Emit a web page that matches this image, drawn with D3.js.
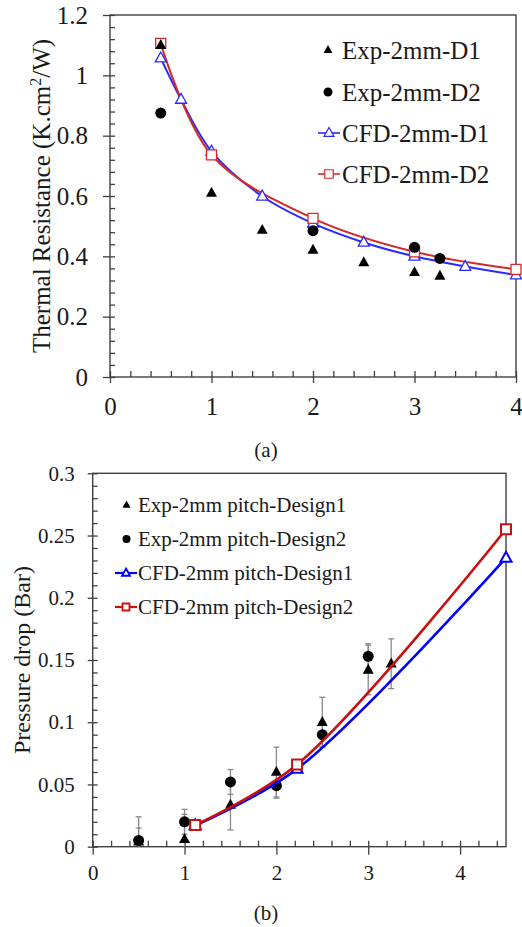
<!DOCTYPE html>
<html>
<head>
<meta charset="utf-8">
<script src="https://cdn.jsdelivr.net/npm/d3@7"></script>
<style>
  html, body { margin: 0; padding: 0; background: #fff; }
  svg { display: block; }
</style>
</head>
<body>
<div id="chart_div"></div>
<script>
// ---- data, chart (a): thermal resistance ----
const xExpD1A = [0.5, 1, 1.5, 2, 2.5, 3, 3.25];
const expD1A = [1.10, 0.61, 0.487, 0.421, 0.38, 0.347, 0.335];
const xExpD2A = [0.5, 2, 3, 3.25];
const expD2A = [0.875, 0.485, 0.43, 0.393];
const xCfdD1A = [0.5, 0.7, 1, 1.5, 2, 2.5, 3, 3.5, 4];
const cfdD1A = [1.057, 0.92, 0.748, 0.599, 0.509, 0.446, 0.4, 0.366, 0.338];
const xCfdD2A = [0.5, 1, 2, 3, 4];
const cfdD2A = [1.106, 0.736, 0.526, 0.415, 0.357];
const legendA = ["Exp-2mm-D1", "Exp-2mm-D2", "CFD-2mm-D1", "CFD-2mm-D2"];
const xTicksA = [0, 1, 2, 3, 4];
const yTicksA = [0, 0.2, 0.4, 0.6, 0.8, 1, 1.2];

// ---- data, chart (b): pressure drop ----
const xExpD1B = [0.5, 1, 1.5, 2, 2.5, 3, 3.25];
const expD1B = [0.004, 0.006, 0.0335, 0.06, 0.1, 0.142, 0.147];
const errD1B = [0.02, 0.02, 0.02, 0.02, 0.02, 0.02, 0.02];
const xExpD2B = [0.5, 1, 1.5, 2, 2.5, 3];
const expD2B = [0.005, 0.02, 0.052, 0.049, 0.09, 0.153];
const errD2B = [0.01, 0.01, 0.01, 0.01, 0.01, 0.01];
const xCfdB = [1.116, 2.225, 4.5];
const cfdD1B = [0.017, 0.0625, 0.232];
const cfdD2B = [0.0175, 0.066, 0.255];
const legendB = ["Exp-2mm pitch-Design1", "Exp-2mm pitch-Design2", "CFD-2mm pitch-Design1", "CFD-2mm pitch-Design2"];
const xTicksB = [0, 1, 2, 3, 4];
const yTicksB = [0, 0.05, 0.1, 0.15, 0.2, 0.25, 0.3];

const serif = "'Liberation Serif', 'Times New Roman', serif";
const axisColor = "#404040";

const svg = d3.select("#chart_div")
    .append("svg")
    .attr("width", 522)
    .attr("height", 927);

const zip = (xs, ys) => xs.map((x, i) => ({ x, y: ys[i] }));

const triPath = (s) => {
    const h = s * 0.9;
    return `M0,${-h * 0.62}L${s / 2},${h * 0.38}L${-s / 2},${h * 0.38}Z`;
};
const sqPath = (s) => `M${-s / 2},${-s / 2}h${s}v${s}h${-s}Z`;

// draws one panel: frame, axes, ticks
const panel = (cfg) => {
    const g = svg.append("g");
    const x = d3.scaleLinear().domain(cfg.xDomain).range([cfg.left, cfg.right]);
    const y = d3.scaleLinear().domain(cfg.yDomain).range([cfg.bottom, cfg.top]);

    g.append("rect")
        .attr("x", cfg.left).attr("y", cfg.top)
        .attr("width", cfg.right - cfg.left).attr("height", cfg.bottom - cfg.top)
        .attr("fill", "none").attr("stroke", axisColor).attr("stroke-width", 1.4);

    const style = (a) => {
        a.attr("color", axisColor).attr("font-family", serif).attr("font-size", cfg.tickFont);
        a.select(".domain").remove();
        a.selectAll("line").attr("stroke-width", 1.3);
        a.selectAll("text").attr("fill", "#1a1a1a");
    };

    // y: major ticks crossing out, minor ticks inside
    g.append("g")
        .attr("transform", `translate(${cfg.left},0)`)
        .call(d3.axisLeft(y).tickValues(cfg.yTicks).tickSize(cfg.majorOut).tickPadding(cfg.yPad).tickFormat(d => String(d)))
        .call(style);
    g.append("g")
        .attr("transform", `translate(${cfg.left},0)`)
        .call(d3.axisRight(y).tickValues(cfg.yMinor).tickSize(5).tickFormat(""))
        .call(style);

    // x
    g.append("g")
        .attr("transform", `translate(0,${cfg.bottom})`)
        .call(d3.axisBottom(x).tickValues(cfg.xTicks).tickSize(cfg.majorOutX).tickPadding(cfg.xPad).tickFormat(d => String(d)))
        .call(style);
    g.append("g")
        .attr("transform", `translate(0,${cfg.bottom})`)
        .call(d3.axisTop(x).tickValues(cfg.xMinor).tickSize(6).tickFormat(""))
        .call(style);

    return { g, x, y };
};

// ================= chart (a) =================
const A = panel({
    left: 110, right: 516, top: 15, bottom: 377,
    xDomain: [0, 4], yDomain: [0, 1.2],
    xTicks: xTicksA, yTicks: yTicksA,
    xMinor: d3.range(0, 21).map(i => i * 0.2),
    yMinor: d3.range(0, 31).map(i => i * 0.04),
    tickFont: 25, majorOut: 7, majorOutX: 6, yPad: 15, xPad: 14
});

const lineA = d3.line().x(d => A.x(d.x)).y(d => A.y(d.y)).curve(d3.curveCatmullRom.alpha(0.5));
const blueA = "#2a2aff", redA = "#d42a2a";

A.g.append("path").datum(zip(xCfdD1A, cfdD1A))
    .attr("d", lineA).attr("fill", "none").attr("stroke", blueA).attr("stroke-width", 2);
A.g.append("path").datum(zip(xCfdD2A, cfdD2A))
    .attr("d", lineA).attr("fill", "none").attr("stroke", redA).attr("stroke-width", 2);

A.g.append("g").selectAll("path").data(zip(xCfdD1A, cfdD1A)).enter().append("path")
    .attr("transform", d => `translate(${A.x(d.x)},${A.y(d.y)})`)
    .attr("d", triPath(11)).attr("fill", "#fff").attr("stroke", blueA).attr("stroke-width", 1.3);
A.g.append("g").selectAll("path").data(zip(xCfdD2A, cfdD2A)).enter().append("path")
    .attr("transform", d => `translate(${A.x(d.x)},${A.y(d.y)})`)
    .attr("d", sqPath(10)).attr("fill", "#fff").attr("stroke", redA).attr("stroke-width", 1.3);

A.g.append("g").selectAll("path").data(zip(xExpD1A, expD1A)).enter().append("path")
    .attr("transform", d => `translate(${A.x(d.x)},${A.y(d.y)})`)
    .attr("d", triPath(11)).attr("fill", "#000");
A.g.append("g").selectAll("circle").data(zip(xExpD2A, expD2A)).enter().append("circle")
    .attr("cx", d => A.x(d.x)).attr("cy", d => A.y(d.y)).attr("r", 5.5).attr("fill", "#000");

// legend (a)
const legA = A.g.append("g");
const rowsA = [50, 92, 133, 174];
legA.selectAll("text").data(legendA).enter().append("text")
    .attr("x", 342).attr("y", (d, i) => rowsA[i]).attr("dy", "0.35em")
    .attr("font-family", serif).attr("font-size", 25).attr("fill", "#1a1a1a")
    .text(d => d);
legA.append("path").attr("transform", `translate(328,${rowsA[0]})`).attr("d", triPath(9)).attr("fill", "#000");
legA.append("circle").attr("cx", 328).attr("cy", rowsA[1]).attr("r", 4.5).attr("fill", "#000");
legA.append("line").attr("x1", 318).attr("x2", 340).attr("y1", rowsA[2]).attr("y2", rowsA[2]).attr("stroke", blueA).attr("stroke-width", 1.6);
legA.append("path").attr("transform", `translate(329,${rowsA[2]})`).attr("d", triPath(10)).attr("fill", "#fff").attr("stroke", blueA).attr("stroke-width", 1.2);
legA.append("line").attr("x1", 318).attr("x2", 340).attr("y1", rowsA[3]).attr("y2", rowsA[3]).attr("stroke", redA).attr("stroke-width", 1.6);
legA.append("path").attr("transform", `translate(329,${rowsA[3]})`).attr("d", sqPath(8.5)).attr("fill", "#fff").attr("stroke", redA).attr("stroke-width", 1.2);

// y title (a)
const titleA = A.g.append("text")
    .attr("transform", "translate(50,196) rotate(-90)")
    .attr("text-anchor", "middle")
    .attr("font-family", serif).attr("font-size", 25).attr("fill", "#1a1a1a");
titleA.append("tspan").text("Thermal Resistance (K.cm");
titleA.append("tspan").attr("dy", -9).attr("font-size", 16).text("2");
titleA.append("tspan").attr("dy", 9).text("/W)");

svg.append("text").attr("x", 266).attr("y", 450).attr("dy", "0.35em")
    .attr("text-anchor", "middle").attr("font-family", serif).attr("font-size", 21).attr("fill", "#1a1a1a")
    .text("(a)");

// ================= chart (b) =================
const B = panel({
    left: 92.7, right: 506, top: 473.3, bottom: 846.7,
    xDomain: [0, 4.5], yDomain: [0, 0.3],
    xTicks: xTicksB, yTicks: yTicksB,
    xMinor: d3.range(0, 23).map(i => i * 0.2),
    yMinor: d3.range(0, 31).map(i => i * 0.01),
    tickFont: 21, majorOut: 5, majorOutX: 8, yPad: 13, xPad: 10
});

const blueB = "#0000ff", redB = "#c81010", errColor = "#8a8a8a";

// error bars
const errBars = (xs, ys, es) => {
    const pts = xs.map((x, i) => ({ x, y: ys[i], e: es[i] }));
    const eg = B.g.append("g").attr("stroke", errColor).attr("stroke-width", 1.3);
    pts.forEach(d => {
        const cx = B.x(d.x);
        const lo = Math.max(0, d.y - d.e), hi = d.y + d.e;
        eg.append("line").attr("x1", cx).attr("x2", cx).attr("y1", B.y(lo)).attr("y2", B.y(hi));
        eg.append("line").attr("x1", cx - 3).attr("x2", cx + 3).attr("y1", B.y(hi)).attr("y2", B.y(hi));
        if (d.y - d.e > 0) {
            eg.append("line").attr("x1", cx - 3).attr("x2", cx + 3).attr("y1", B.y(lo)).attr("y2", B.y(lo));
        }
    });
};
errBars(xExpD1B, expD1B, errD1B);
errBars(xExpD2B, expD2B, errD2B);

B.g.append("g").selectAll("path").data(zip(xExpD1B, expD1B)).enter().append("path")
    .attr("transform", d => `translate(${B.x(d.x)},${B.y(d.y)})`)
    .attr("d", triPath(11)).attr("fill", "#000");
B.g.append("g").selectAll("circle").data(zip(xExpD2B, expD2B)).enter().append("circle")
    .attr("cx", d => B.x(d.x)).attr("cy", d => B.y(d.y)).attr("r", 5.5).attr("fill", "#000");

const lineB = d3.line().x(d => B.x(d.x)).y(d => B.y(d.y)).curve(d3.curveCatmullRom.alpha(0.5));
B.g.append("path").datum(zip(xCfdB, cfdD1B))
    .attr("d", lineB).attr("fill", "none").attr("stroke", blueB).attr("stroke-width", 2.6);
B.g.append("path").datum(zip(xCfdB, cfdD2B))
    .attr("d", lineB).attr("fill", "none").attr("stroke", redB).attr("stroke-width", 2.6);

B.g.append("g").selectAll("path").data(zip(xCfdB, cfdD1B)).enter().append("path")
    .attr("transform", d => `translate(${B.x(d.x)},${B.y(d.y)})`)
    .attr("d", triPath(11)).attr("fill", "#fff").attr("stroke", blueB).attr("stroke-width", 2);
B.g.append("g").selectAll("path").data(zip(xCfdB, cfdD2B)).enter().append("path")
    .attr("transform", d => `translate(${B.x(d.x)},${B.y(d.y)})`)
    .attr("d", sqPath(10)).attr("fill", "#fff").attr("stroke", redB).attr("stroke-width", 2);

// legend (b)
const legB = B.g.append("g");
const rowsB = [505, 539, 573, 607];
legB.selectAll("text").data(legendB).enter().append("text")
    .attr("x", 138).attr("y", (d, i) => rowsB[i]).attr("dy", "0.35em")
    .attr("font-family", serif).attr("font-size", 21).attr("fill", "#1a1a1a")
    .text(d => d);
legB.append("path").attr("transform", `translate(126.5,${rowsB[0]})`).attr("d", triPath(8)).attr("fill", "#000");
legB.append("circle").attr("cx", 126.5).attr("cy", rowsB[1]).attr("r", 4).attr("fill", "#000");
legB.append("line").attr("x1", 115).attr("x2", 137).attr("y1", rowsB[2]).attr("y2", rowsB[2]).attr("stroke", blueB).attr("stroke-width", 2.2);
legB.append("path").attr("transform", `translate(126,${rowsB[2]})`).attr("d", triPath(8)).attr("fill", "#fff").attr("stroke", blueB).attr("stroke-width", 1.8);
legB.append("line").attr("x1", 115).attr("x2", 137).attr("y1", rowsB[3]).attr("y2", rowsB[3]).attr("stroke", redB).attr("stroke-width", 2.2);
legB.append("path").attr("transform", `translate(126,${rowsB[3]})`).attr("d", sqPath(7)).attr("fill", "#fff").attr("stroke", redB).attr("stroke-width", 1.8);

// y title (b)
B.g.append("text")
    .attr("transform", "translate(30,660) rotate(-90)")
    .attr("text-anchor", "middle")
    .attr("font-family", serif).attr("font-size", 24).attr("fill", "#1a1a1a")
    .text("Pressure drop (Bar)");

svg.append("text").attr("x", 266).attr("y", 913).attr("dy", "0.35em")
    .attr("text-anchor", "middle").attr("font-family", serif).attr("font-size", 21).attr("fill", "#1a1a1a")
    .text("(b)");
</script>
</body>
</html>
